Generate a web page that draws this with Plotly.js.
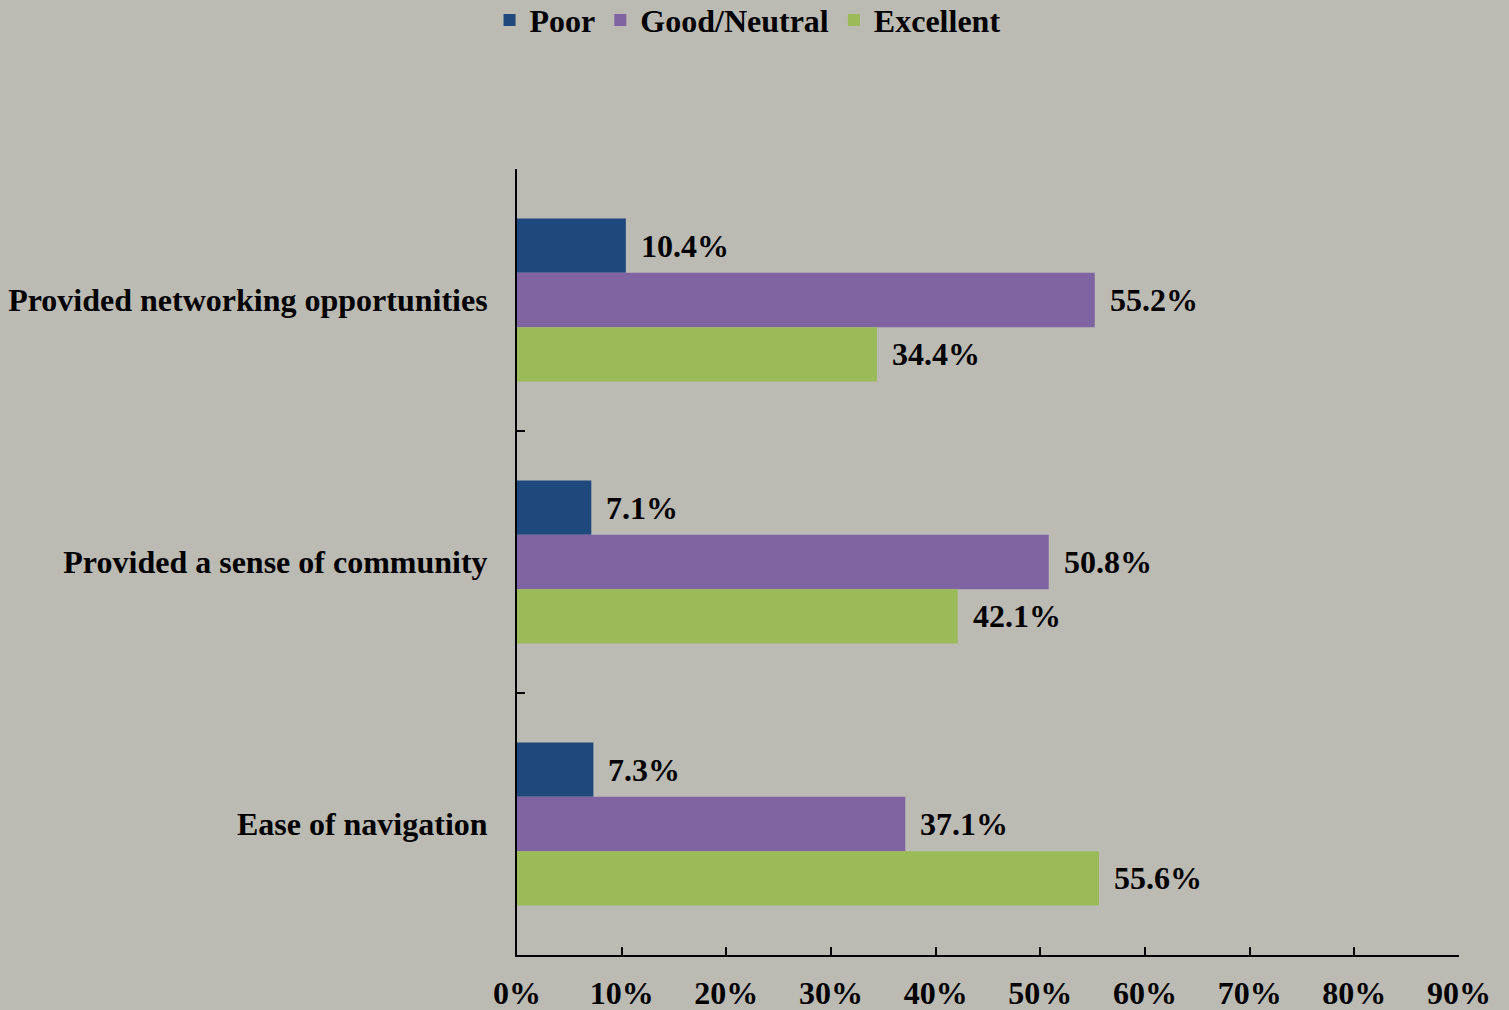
<!DOCTYPE html>
<html>
<head>
<meta charset="utf-8">
<script src="https://cdn.plot.ly/plotly-3.0.1.min.js"></script>
<style>html,body{margin:0;padding:0;background:#bbbbb3;}#chart{width:1509px;height:1010px;}</style>
</head>
<body>
<div id="chart"></div>
<script>
const categories = ["Provided networking opportunities", "Provided a sense of community", "Ease of navigation"];
const seriesNames = ["Poor", "Good/Neutral", "Excellent"];
const poor = [10.4, 7.1, 7.3];
const goodNeutral = [55.2, 50.8, 37.1];
const excellent = [34.4, 42.1, 55.6];
const colors = ["#1f497d", "#8064a2", "#9bbb59"];
const tickVals = [0, 10, 20, 30, 40, 50, 60, 70, 80, 90];
const tickText = ["0%", "10%", "20%", "30%", "40%", "50%", "60%", "70%", "80%", "90%"];

const seriesValues = [poor, goodNeutral, excellent];
const FONT = "Liberation Serif, Times New Roman, serif";
const FS = 32;
const bargap = 0.377;

const traces = seriesValues.map((vals, i) => ({
  type: "bar",
  orientation: "h",
  name: seriesNames[i],
  x: vals,
  y: categories,
  marker: {color: colors[i], line: {width: 0}},
  hoverinfo: "skip"
}));

const barW = (1 - bargap) / seriesValues.length;
const annotations = [];
seriesValues.forEach((vals, i) => {
  vals.forEach((v, j) => {
    annotations.push({
      x: v, y: j + (i - 1) * barW, xref: "x", yref: "y",
      text: v.toFixed(1) + "%", showarrow: false,
      xanchor: "left", yanchor: "middle", xshift: 13,
      font: {family: FONT, size: FS, color: "#000", weight: "bold"}
    });
  });
});

const layout = {
  width: 1509, height: 1010,
  paper_bgcolor: "#bbbbb3", plot_bgcolor: "#bbbbb3",
  margin: {l: 517, r: 50, t: 169, b: 55, pad: 0, autoexpand: false},
  barmode: "group", bargap: bargap, bargroupgap: 0,
  font: {family: FONT, size: FS, color: "#000", weight: "bold"},
  showlegend: true,
  legend: {orientation: "h", xref: "container", x: 0.4954, xanchor: "center",
           yref: "container", y: 0.98, yanchor: "middle",
           font: {family: FONT, size: FS, color: "#000", weight: "bold"},
           itemwidth: 30, tracegroupgap: 0,
           bgcolor: "rgba(0,0,0,0)", itemclick: false, itemdoubleclick: false},
  xaxis: {range: [0, 90], tickvals: tickVals, ticktext: tickText,
          showgrid: false, zeroline: false, showline: true, linecolor: "#000", linewidth: 2,
          ticks: "inside", ticklen: 8, tickwidth: 2, tickcolor: "#000",
          ticklabelstandoff: 9,
          tickfont: {family: FONT, size: FS, color: "#000", weight: "bold"}, fixedrange: true},
  yaxis: {type: "category", autorange: "reversed", showgrid: false, zeroline: false,
          showline: true, linecolor: "#000", linewidth: 2,
          ticks: "inside", tickson: "boundaries", ticklen: 8, tickwidth: 2, tickcolor: "#000",
          ticklabelstandoff: 21,
          tickfont: {family: FONT, size: FS, color: "#000", weight: "bold"}, fixedrange: true},
  annotations: annotations
};

Plotly.newPlot("chart", traces, layout, {displayModeBar: false, staticPlot: true});
</script>
</body>
</html>
